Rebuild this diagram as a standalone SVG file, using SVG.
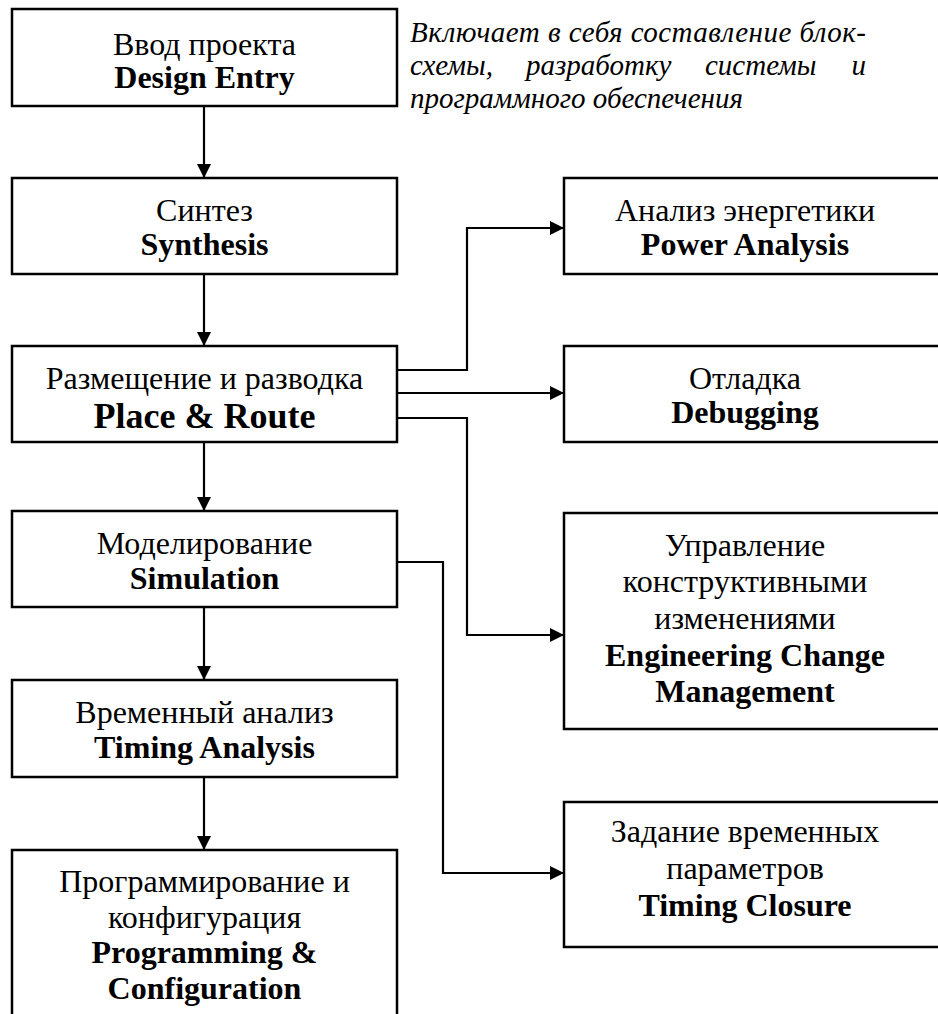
<svg xmlns="http://www.w3.org/2000/svg" width="938" height="1014" viewBox="0 0 938 1014">
<defs>
<style>
.box{fill:#fff;stroke:#000;stroke-width:2.5}
.t{font-family:"Liberation Serif","Times New Roman",serif;font-size:32px;text-anchor:middle;fill:#000}
.b{font-weight:bold}
.pr{font-size:36px}
.it{font-family:"Liberation Serif","Times New Roman",serif;font-size:29px;font-style:italic;fill:#000}
.c{fill:none;stroke:#000;stroke-width:2.2}
</style>
<marker id="ah" viewBox="0 0 14 14" refX="14" refY="7" markerWidth="14" markerHeight="14" markerUnits="userSpaceOnUse" orient="auto">
<path d="M0,0 L14,7 L0,14 Z" fill="#000"/>
</marker>
</defs>
<rect width="938" height="1014" fill="#fff"/>

<g id="note">
<text class="it" x="410" y="42" textLength="456" lengthAdjust="spacing">Включает в себя составление блок-</text>
<text class="it" x="410" y="75">схемы,</text>
<text class="it" x="526" y="75">разработку</text>
<text class="it" x="705" y="75">системы</text>
<text class="it" x="866" y="75" text-anchor="end">и</text>
<text class="it" x="410" y="108">программного обеспечения</text>
</g>

<g id="connectors">
<path class="c" d="M204,106 V178" marker-end="url(#ah)"/>
<path class="c" d="M204,274 V346" marker-end="url(#ah)"/>
<path class="c" d="M204,442 V511" marker-end="url(#ah)"/>
<path class="c" d="M204,607 V680" marker-end="url(#ah)"/>
<path class="c" d="M204,777 V850" marker-end="url(#ah)"/>
<path class="c" d="M397,370 H467 V228 H564" marker-end="url(#ah)"/>
<path class="c" d="M397,393 H564" marker-end="url(#ah)"/>
<path class="c" d="M397,418 H467 V635 H564" marker-end="url(#ah)"/>
<path class="c" d="M397,562 H443 V873 H564" marker-end="url(#ah)"/>
</g>

<g id="design-entry">
<rect class="box" x="12" y="9" width="385" height="97"/>
<text class="t" x="204.5" y="55">Ввод проекта</text>
<text class="t b" x="204.5" y="88">Design Entry</text>
</g>

<g id="synthesis">
<rect class="box" x="12" y="178" width="385" height="96"/>
<text class="t" x="204.5" y="221">Синтез</text>
<text class="t b" x="204.5" y="255">Synthesis</text>
</g>

<g id="place-route">
<rect class="box" x="12" y="346" width="385" height="96"/>
<text class="t" x="204.5" y="389">Размещение и разводка</text>
<text class="t b pr" x="204.5" y="428">Place &amp; Route</text>
</g>

<g id="simulation">
<rect class="box" x="12" y="511" width="385" height="96"/>
<text class="t" x="204.5" y="554">Моделирование</text>
<text class="t b" x="204.5" y="589">Simulation</text>
</g>

<g id="timing-analysis">
<rect class="box" x="12" y="680" width="385" height="97"/>
<text class="t" x="204.5" y="723">Временный анализ</text>
<text class="t b" x="204.5" y="758">Timing Analysis</text>
</g>

<g id="programming">
<rect class="box" x="12" y="850" width="385" height="200"/>
<text class="t" x="204.5" y="892">Программирование и</text>
<text class="t" x="204.5" y="928">конфигурация</text>
<text class="t b" x="204.5" y="963">Programming &amp;</text>
<text class="t b" x="204.5" y="999">Configuration</text>
</g>

<g id="power-analysis">
<rect class="box" x="564" y="178" width="390" height="96"/>
<text class="t" x="745" y="221">Анализ энергетики</text>
<text class="t b" x="745" y="255">Power Analysis</text>
</g>

<g id="debugging">
<rect class="box" x="564" y="346" width="390" height="96"/>
<text class="t" x="745" y="389">Отладка</text>
<text class="t b" x="745" y="423">Debugging</text>
</g>

<g id="ecm">
<rect class="box" x="564" y="513" width="390" height="216"/>
<text class="t" x="745" y="556">Управление</text>
<text class="t" x="745" y="592">конструктивными</text>
<text class="t" x="745" y="629">изменениями</text>
<text class="t b" x="745" y="666">Engineering Change</text>
<text class="t b" x="745" y="702">Management</text>
</g>

<g id="timing-closure">
<rect class="box" x="564" y="802" width="390" height="145"/>
<text class="t" x="745" y="842">Задание временных</text>
<text class="t" x="745" y="879">параметров</text>
<text class="t b" x="745" y="916">Timing Closure</text>
</g>
</svg>
